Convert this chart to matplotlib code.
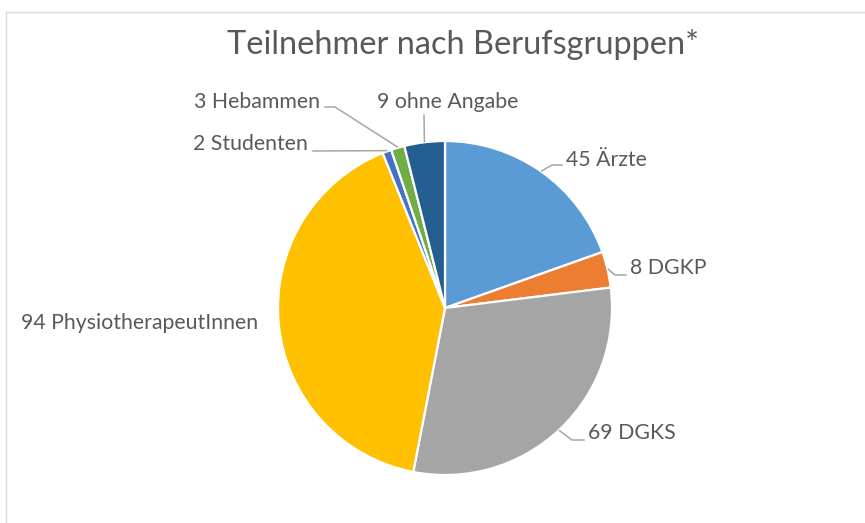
import matplotlib
matplotlib.use('Agg')
import matplotlib.pyplot as plt
from matplotlib.lines import Line2D
import numpy as np

plt.rcParams['font.family'] = ['Lato', 'DejaVu Sans']

# Daten
gruppen = ['Ärzte', 'DGKP', 'DGKS', 'PhysiotherapeutInnen', 'Studenten', 'Hebammen', 'ohne Angabe']
anzahl = [45, 8, 69, 94, 2, 3, 9]
farben = ['#5B9BD5', '#ED7D31', '#A5A5A5', '#FFC000', '#4472C4', '#70AD47', '#255E91']

textfarbe = '#595959'
linienfarbe = '#A6A6A6'

W, H = 865, 523
fig = plt.figure(figsize=(W / 100, H / 100), dpi=100)
ax = fig.add_axes([0, 0, 1, 1])

# Mittelpunkt und Radius in Pixeln
cx, cy, R = 445, 308, 167


def px(x, y):
    # Pixelposition -> Datenkoordinaten
    return (x - cx) / R, (cy - y) / R


wedges, _ = ax.pie(anzahl, colors=farben, startangle=90, counterclock=False, radius=1,
                   wedgeprops=dict(edgecolor='white', linewidth=1.6))
ax.set_aspect('auto')
ax.set_xlim(-cx / R, (W - cx) / R)
ax.set_ylim(-(H - cy) / R, cy / R)
ax.axis('off')

# Beschriftungen: Textposition, Ausrichtung, Knickpunkte der Führungslinie (Pixel)
layout = [
    ((566, 160), 'left', [(552, 165), (562, 165)]),
    ((630, 268), 'left', [(615, 275), (626, 275)]),
    ((588, 433), 'left', [(572, 440), (584, 440)]),
    ((258, 323), 'right', None),
    ((308, 144), 'right', [(313, 151)]),
    ((320, 102), 'right', [(335, 107), (325, 107)]),
    ((448, 102), 'center', [(424, 115)]),
]

for w, name, n, (pos, ha, knicke) in zip(wedges, gruppen, anzahl, layout):
    tx, ty = px(*pos)
    ax.text(tx, ty, f'{n} {name}', ha=ha, va='center', fontsize=15.3, color=textfarbe)
    if knicke:
        mitte = np.deg2rad((w.theta1 + w.theta2) / 2)
        xs = [np.cos(mitte) * 1.005] + [px(*k)[0] for k in knicke]
        ys = [np.sin(mitte) * 1.005] + [px(*k)[1] for k in knicke]
        ax.plot(xs, ys, color=linienfarbe, linewidth=1.1)

tx, ty = px(463, 44)
ax.text(tx, ty, 'Teilnehmer nach Berufsgruppen*', ha='center', va='center', fontsize=23.4, color=textfarbe)

# Rahmen des Diagrammbereichs
fig.add_artist(Line2D([6 / W, 6 / W], [0, 1 - 12 / H], color='#D9D9D9', linewidth=1, transform=fig.transFigure))
fig.add_artist(Line2D([6 / W, 1], [1 - 12 / H, 1 - 12 / H], color='#D9D9D9', linewidth=1, transform=fig.transFigure))

fig.savefig('out.png', dpi=100)
